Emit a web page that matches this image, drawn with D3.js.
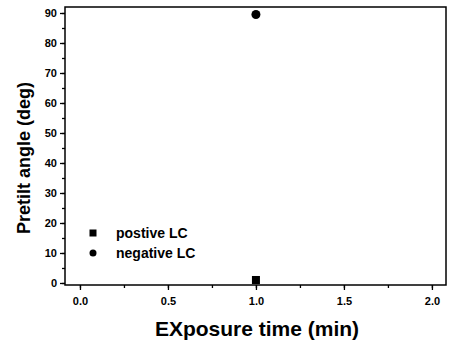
<!DOCTYPE html>
<html lang="en">
<head>
<meta charset="utf-8">
<title>Pretilt angle</title>
<script src="https://d3js.org/d3.v7.min.js"></script>
<style>
body { margin: 0; background: #fff; }
text { font-family: Arial, "Liberation Sans", sans-serif; font-weight: bold; fill: #000; }
</style>
</head>
<body>
<script>
// data
var seriesNames = ["postive LC", "negative LC"];
var exposureTime = [1.0];
var positiveLC = [1.0];
var negativeLC = [89.5];
var xTicks = [0, 0.5, 1.0, 1.5, 2.0];
var yTicks = [0, 10, 20, 30, 40, 50, 60, 70, 80, 90];

var w = 449, h = 343;
var padL = 65, padR = 446, padT = 7, padB = 285;

var svg = d3.select("body").append("svg")
    .attr("width", w)
    .attr("height", h);

var x = d3.scaleLinear().domain([-0.085, 2.08]).range([padL, padR]);
var y = d3.scaleLinear().domain([-0.67, 92]).range([padB, padT]);

// frame
svg.append("rect")
   .attr("x", padL).attr("y", padT)
   .attr("width", padR - padL).attr("height", padB - padT)
   .attr("fill", "none").attr("stroke", "#000").attr("stroke-width", 1.5);

// minor ticks
svg.append("g")
   .attr("transform", "translate(0," + padB + ")")
   .call(d3.axisBottom(x).tickValues(d3.range(0, 2.01, 0.25)).tickSize(3).tickFormat(""))
   .call(function(g){ g.select(".domain").remove(); });
svg.append("g")
   .attr("transform", "translate(" + padL + ",0)")
   .call(d3.axisLeft(y).tickValues(d3.range(0, 91, 5)).tickSize(3).tickFormat(""))
   .call(function(g){ g.select(".domain").remove(); });

// major ticks + labels
var xAxis = svg.append("g")
   .attr("transform", "translate(0," + padB + ")")
   .call(d3.axisBottom(x).tickValues(xTicks).tickSize(5).tickPadding(7).tickFormat(d3.format(".1f")));
xAxis.select(".domain").remove();
xAxis.selectAll("text").style("font-size", "11px");

var yAxis = svg.append("g")
   .attr("transform", "translate(" + padL + ",0)")
   .call(d3.axisLeft(y).tickValues(yTicks).tickSize(5).tickPadding(3));
yAxis.select(".domain").remove();
yAxis.selectAll("text").style("font-size", "11px");

svg.selectAll(".tick line").attr("stroke-width", 1.3);

// axis titles
svg.append("text")
   .attr("x", 257).attr("y", 336)
   .attr("text-anchor", "middle")
   .style("font-size", "21px")
   .text("EXposure time (min)");

svg.append("text")
   .attr("transform", "translate(30,158) rotate(-90)")
   .attr("text-anchor", "middle")
   .style("font-size", "18px")
   .text("Pretilt angle (deg)");

// points
svg.selectAll("rect.pos")
   .data(exposureTime)
   .enter().append("rect")
   .attr("class", "pos")
   .attr("x", function(d){ return x(d) - 4; })
   .attr("y", function(d, i){ return y(positiveLC[i]) - 4; })
   .attr("width", 8).attr("height", 8)
   .attr("fill", "#000");

svg.selectAll("circle.neg")
   .data(exposureTime)
   .enter().append("circle")
   .attr("class", "neg")
   .attr("cx", function(d){ return x(d); })
   .attr("cy", function(d, i){ return y(negativeLC[i]); })
   .attr("r", 4.5)
   .attr("fill", "#000");

// legend
var legend = svg.append("g").attr("transform", "translate(93,233)");
legend.append("rect").attr("x", -3.5).attr("y", -3.5).attr("width", 7).attr("height", 7).attr("fill", "#000");
legend.append("circle").attr("cx", 0).attr("cy", 20).attr("r", 3.5).attr("fill", "#000");
legend.selectAll("text.lab")
   .data(seriesNames)
   .enter().append("text")
   .attr("class", "lab")
   .attr("x", 23)
   .attr("y", function(d, i){ return i * 20 + 5; })
   .style("font-size", "14px")
   .text(function(d){ return d; });
</script>
</body>
</html>
